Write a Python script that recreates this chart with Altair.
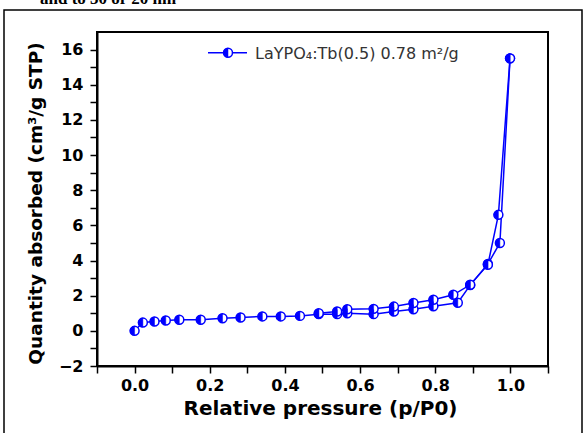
import altair as alt
import pandas as pd

# Adsorption branch (relative pressure, quantity adsorbed)
ads_p = [0.0, 0.022, 0.053, 0.083, 0.119, 0.176, 0.234, 0.282, 0.34, 0.389, 0.44,
         0.49, 0.539, 0.566, 0.636, 0.69, 0.742, 0.795, 0.86, 0.893, 0.94, 0.972, 0.999]
ads_v = [0.0, 0.47, 0.53, 0.59, 0.63, 0.63, 0.72, 0.76, 0.82, 0.82, 0.85,
         0.95, 0.95, 1.0, 0.95, 1.1, 1.23, 1.4, 1.6, 2.6, 3.8, 5.0, 15.5]
# Desorption branch
des_p = [0.999, 0.968, 0.94, 0.893, 0.848, 0.795, 0.742, 0.69, 0.636, 0.566, 0.539, 0.49]
des_v = [15.5, 6.6, 3.76, 2.62, 2.05, 1.77, 1.58, 1.38, 1.25, 1.23, 1.1, 1.0]

x_ticks = [-0.1, 0.0, 0.1, 0.2, 0.3, 0.4, 0.5, 0.6, 0.7, 0.8, 0.9, 1.0, 1.1]
y_ticks = list(range(-2, 17))

legend_label = "LaYPO\u2084:Tb(0.5) 0.78 m\u00b2/g"
top_text = "and to 30 or 20 nm"
x_title = "Relative pressure (p/P0)"
y_title = "Quantity absorbed (cm\u00b3/g STP)"

BLUE = "#0000ff"

ads = pd.DataFrame({"p": ads_p, "v": ads_v, "branch": "ads", "order": list(range(len(ads_p)))})
des = pd.DataFrame({"p": des_p, "v": des_v, "branch": "des", "order": list(range(len(des_p)))})
df = pd.concat([ads, des], ignore_index=True)
one = pd.DataFrame({"a": [0]})

x = alt.X(
    "p:Q",
    scale=alt.Scale(domain=[-0.1, 1.1], nice=False, zero=False),
    axis=alt.Axis(
        values=x_ticks,
        labelExpr="(datum.value > -0.01 && datum.value < 1.01 && abs(round(datum.value*10)) % 2 == 0) ? format(datum.value, '.1f') : ''",
        title=x_title,
        titleX=223, titleY=48, titleBaseline="alphabetic", titleAlign="center",
        titleFont="DejaVu Sans", titleFontSize=20, titleFontWeight="bold",
        labelPadding=4, labelBaseline="top",
    ),
)
y = alt.Y(
    "v:Q",
    scale=alt.Scale(domain=[-2, 17], nice=False, zero=False),
    axis=alt.Axis(
        values=y_ticks,
        labelExpr="datum.value % 2 == 0 ? format(datum.value, 'd') : ''",
        title=y_title,
        titleX=-56, titleY=171, titleAngle=-90, titleBaseline="alphabetic", titleAlign="center",
        titleFont="DejaVu Sans", titleFontSize=18.5, titleFontWeight="bold",
        labelPadding=7,
    ),
)

lines = alt.Chart(df).mark_line(color=BLUE, strokeWidth=1.5).encode(
    x=x, y=y, detail="branch:N", order="order:Q"
)
pts = alt.Chart(df).mark_point(
    shape="circle", filled=True, fill="white", stroke=BLUE, strokeWidth=1.5, size=80, opacity=1
).encode(x=x, y=y)
half = alt.Chart(df).mark_point(
    shape="M0,-1 A1,1 0 0,0 0,1 Z", filled=True, fill=BLUE, stroke=BLUE, strokeWidth=0.5, size=80, opacity=1
).encode(x=x, y=y)

# legend
leg_line = alt.Chart(one).mark_rule(color=BLUE, strokeWidth=1.5).encode(
    x=alt.value(111), x2=alt.value(150), y=alt.value(20.7)
)
leg_pt = alt.Chart(one).mark_point(
    shape="circle", filled=True, fill="white", stroke=BLUE, strokeWidth=1.5, size=80, opacity=1
).encode(x=alt.value(131), y=alt.value(20.7))
leg_half = alt.Chart(one).mark_point(
    shape="M0,-1 A1,1 0 0,0 0,1 Z", filled=True, fill=BLUE, stroke=BLUE, strokeWidth=0.5, size=80, opacity=1
).encode(x=alt.value(131), y=alt.value(20.7))
leg_text = alt.Chart(one).mark_text(
    text=legend_label, align="left", baseline="alphabetic", font="DejaVu Sans", fontSize=16, color="#333333"
).encode(x=alt.value(158), y=alt.value(27))

# outer frame and cut-off caption text above
frame = alt.Chart(one).mark_rect(filled=False, stroke="black", strokeWidth=1.5).encode(
    x=alt.value(-93), x2=alt.value(485), y=alt.value(-22), y2=alt.value(410)
)
cap = alt.Chart(one).mark_text(
    text=top_text, align="left", baseline="alphabetic", font="Liberation Serif",
    fontSize=17, fontWeight="bold", color="black"
).encode(x=alt.value(-57), y=alt.value(-28))

chart = alt.layer(frame, cap, lines, pts, half, leg_line, leg_pt, leg_half, leg_text).properties(
    width=451, height=334,
    autosize=alt.AutoSizeParams(type="none"),
    padding={"left": 97, "top": 32, "right": 39, "bottom": 67},
).configure_view(stroke="black", strokeWidth=2).configure_axis(
    grid=False, domainColor="black", domainWidth=2, tickColor="black", tickWidth=1.5, tickSize=7,
    labelFont="DejaVu Sans", labelFontSize=16, labelFontWeight="bold", labelColor="black",
    titleColor="black",
)

chart.save("out.html", embed_options={"renderer": "svg", "actions": False})
